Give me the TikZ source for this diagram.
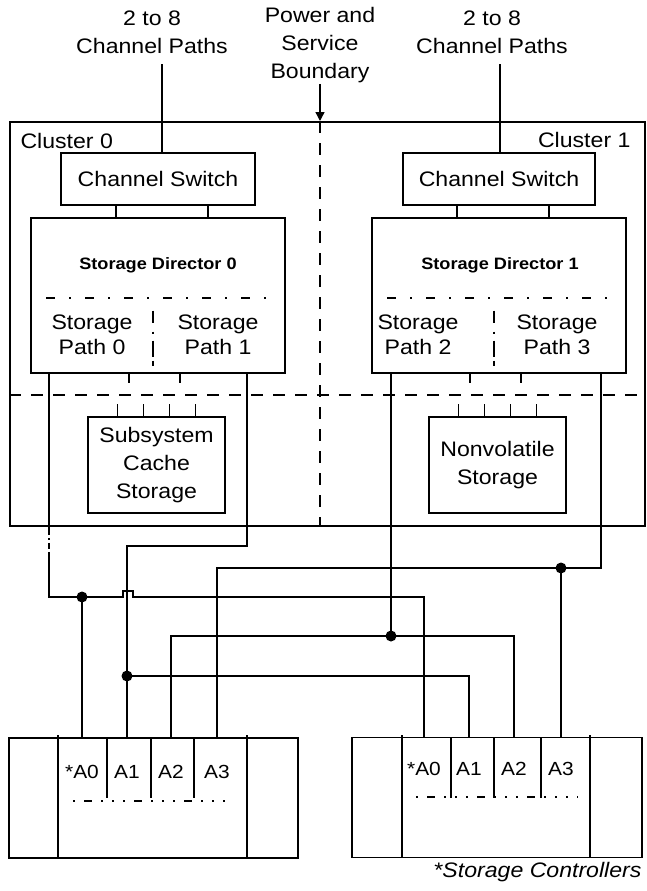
\documentclass[tikz,border=0pt]{standalone}
\usepackage{fontspec}
\setmainfont{Liberation Sans}[FakeStretch=1.1]
\usetikzlibrary{arrows.meta,calc}

\begin{document}
\begin{tikzpicture}[
    x=1pt, y=-1pt,
    font=\fontsize{21}{28}\selectfont,
    box/.style={draw, line width=1.8pt, align=center, inner sep=0pt},
    wire/.style={line width=1.8pt},
    bound/.style={line width=1.6pt, dash pattern=on 12pt off 10pt},
    tick/.style={line width=1.6pt},
    joint/.style={circle, fill, inner sep=0pt, minimum size=11pt},
    slot/.style={font=\fontsize{19}{22}\selectfont, inner sep=1pt},
    dirname/.style={font=\bfseries\fontsize{16.5}{20}\selectfont},
    pathname/.style={align=center, font=\fontsize{21}{25}\selectfont}
]
    \useasboundingbox (0,0) rectangle (646,891);

    % top labels
    \node[align=center] (cpl) at (152,32) {2 to 8\\Channel Paths};
    \node[align=center] (cpr) at (492,32) {2 to 8\\Channel Paths};
    \node[align=center, inner sep=1pt] (psb) at (320,45) {Power and\\Service\\Boundary};

    % the two clusters
    \node[box, minimum width=635pt, minimum height=404pt, anchor=north west] (frame) at (9,121) {};
    \node[anchor=west] (cl0) at (17,141) {Cluster 0};
    \node[anchor=east] (cl1) at (634,140) {Cluster 1};

    \node[box, minimum width=194pt, minimum height=52pt] (cswl) at (158,179) {Channel Switch};
    \node[box, minimum width=192pt, minimum height=52pt] (cswr) at (499,179) {Channel Switch};

    \node[box, minimum width=254pt, minimum height=155pt] (dirl) at (158,295.5) {};
    \node[box, minimum width=254pt, minimum height=155pt] (dirr) at (499,295.5) {};
    \node[dirname] (sdl) at (158,265) {Storage Director 0};
    \node[dirname] (sdr) at (500,265) {Storage Director 1};
    \node[pathname] (sp0) at (92,335) {Storage\\Path 0};
    \node[pathname] (sp1) at (218,335) {Storage\\Path 1};
    \node[pathname] (sp2) at (418,335) {Storage\\Path 2};
    \node[pathname] (sp3) at (557,335) {Storage\\Path 3};

    \node[box, minimum width=137pt, minimum height=96pt] (cache) at (156.5,465) {Subsystem\\Cache\\Storage};
    \node[box, minimum width=137pt, minimum height=96pt] (nvs) at (497.5,465) {Nonvolatile\\Storage};

    % inside the directors
    \foreach \d in {dirl,dirr} {
        \draw[tick, dash pattern=on 9pt off 14pt on 2pt off 14pt] ($(\d.west)+(16,2.5)$) -- ($(\d.east)+(-12,2.5)$);
        \draw[tick, dash pattern=on 12pt off 9pt on 2pt off 7pt on 16pt off 4pt] ($(\d.center)+(-5,15)$) -- ++(0,55);
    }
    \foreach \dx in {-42,50} {
        \draw[wire] ($(cswl.south)+(\dx,0)$) -- ($(dirl.north)+(\dx,0)$);
        \draw[wire] ($(cswr.south)+(\dx,0)$) -- ($(dirr.north)+(\dx,0)$);
    }
    \foreach \dx in {-29,22} {
        \draw[tick] ($(dirl.south)+(\dx,0)$) -- ++(0,9);
        \draw[tick] ($(dirr.south)+(\dx,0)$) -- ++(0,9);
    }
    \foreach \dx in {-39,-13,13,39} {
        \draw[tick] ($(cache.north)+(\dx,0)$) -- ++(0,-12);
        \draw[tick] ($(nvs.north)+(\dx,0)$) -- ++(0,-12);
    }

    % channel paths in
    \draw[wire] ($(cswl.north)+(4,0)$) -- ($(cswl.north |- cpl.south)+(4,7)$);
    \draw[wire] ($(cswr.north)+(1,0)$) -- ($(cswr.north |- cpr.south)+(1,7)$);

    % power and service boundary
    \coordinate (hb) at (0,395);
    \draw[bound] (frame.west |- hb) -- (frame.east |- hb);
    \draw[bound] (psb.south |- frame.north) -- (psb.south |- frame.south);
    \draw[wire, line width=1.4pt, -{Triangle[length=9pt,width=9pt]}] (psb.south) -- (psb.south |- frame.north);

    % storage controllers
    \node[box, minimum width=289pt, minimum height=120pt] (ctll) at (153.5,798) {};
    \node[box, minimum width=290pt, minimum height=120pt] (ctlr) at (497,797.5) {};
    \foreach \xx in {58,247} \draw[wire] (\xx,735) -- (\xx,858);
    \foreach \xx in {402,590} \draw[wire] (\xx,735) -- (\xx,857);
    \foreach \xx in {107,151,194,451,494,541} \draw[wire] (\xx,738) -- (\xx,798);
    \draw[tick, dash pattern=on 2pt off 9pt on 8pt off 9pt on 2pt off 9pt on 2pt off 9pt] (73,801) -- (232,801);
    \draw[tick, dash pattern=on 2pt off 9pt on 8pt off 9pt on 2pt off 9pt on 2pt off 9pt] (416,797) -- (578,797);

    \node[slot] (la0) at (82,772) {*A0};
    \node[slot] (la1) at (127,772) {A1};
    \node[slot] (la2) at (171,772) {A2};
    \node[slot] (la3) at (217,772) {A3};
    \node[slot] (ra0) at (424,769) {*A0};
    \node[slot] (ra1) at (469,769) {A1};
    \node[slot] (ra2) at (514,769) {A2};
    \node[slot] (ra3) at (561,769) {A3};

    \node[anchor=east, font=\itshape\fontsize{21}{25}\selectfont] (note) at (645,872) {*Storage Controllers};

    % cabling from the storage paths
    \coordinate (turn1) at (0,546);
    \coordinate (bus3) at (0,568);
    \coordinate (bus0) at (0,597);
    \coordinate (bus2) at (0,636);
    \coordinate (bus1) at (0,676);

    \coordinate (p0) at ($(dirl.south)+(-109,0)$);
    \coordinate (p1) at ($(dirl.south)+(89,0)$);
    \coordinate (p2) at ($(dirr.south)+(-108,0)$);
    \coordinate (p3) at ($(dirr.south)+(102,0)$);

    % path 0
    \draw[wire] (p0) -- ++(0,155) coordinate (p0a);
    \draw[wire, dash pattern=on 6pt off 3pt on 2pt off 3pt] (p0a) -- ++(0,24) coordinate (p0b);
    \draw[wire] (p0b) -- (p0 |- bus0) -- ($(la1 |- bus0)+(-4,0)$) -- ++(0,-6) -- ++(10,0) -- ++(0,6) -| (ra0 |- ctlr.north);
    \draw[wire] (la0 |- bus0) -- (la0 |- ctll.north);
    \node[joint] (j0) at (la0 |- bus0) {};

    % path 1
    \draw[wire] (p1) |- (la1 |- turn1) -- (la1 |- ctll.north);
    \draw[wire] (la1 |- bus1) -| (ra1 |- ctlr.north);
    \node[joint] (j1) at (la1 |- bus1) {};

    % path 2
    \draw[wire] (p2) -- (p2 |- bus2);
    \draw[wire] (la2 |- ctll.north) |- (ra2 |- bus2) -- (ra2 |- ctlr.north);
    \node[joint] (j2) at (p2 |- bus2) {};

    % path 3
    \draw[wire] (p3) |- (la3 |- bus3) -- (la3 |- ctll.north);
    \draw[wire] (ra3 |- bus3) -- (ra3 |- ctlr.north);
    \node[joint] (j3) at (ra3 |- bus3) {};
\end{tikzpicture}
\end{document}
